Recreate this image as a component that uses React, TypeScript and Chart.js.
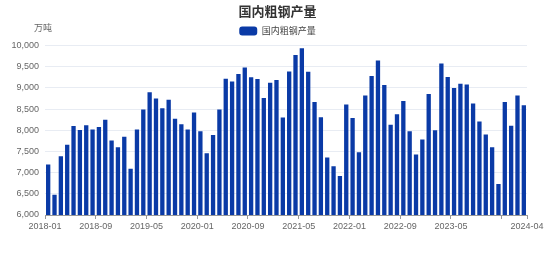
import React, { useEffect, useRef } from "react";
import { Chart, registerables } from "chart.js";

Chart.register(...registerables);

const title = "国内粗钢产量";
const unitLabel = "万吨";

const categories: string[] = [
  "2018-01", "2018-02", "2018-03", "2018-04", "2018-05", "2018-06", "2018-07", "2018-08", "2018-09", "2018-10", "2018-11", "2018-12",
  "2019-01", "2019-02", "2019-03", "2019-04", "2019-05", "2019-06", "2019-07", "2019-08", "2019-09", "2019-10", "2019-11", "2019-12",
  "2020-01", "2020-02", "2020-03", "2020-04", "2020-05", "2020-06", "2020-07", "2020-08", "2020-09", "2020-10", "2020-11", "2020-12",
  "2021-01", "2021-02", "2021-03", "2021-04", "2021-05", "2021-06", "2021-07", "2021-08", "2021-09", "2021-10", "2021-11", "2021-12",
  "2022-01", "2022-02", "2022-03", "2022-04", "2022-05", "2022-06", "2022-07", "2022-08", "2022-09", "2022-10", "2022-11", "2022-12",
  "2023-01", "2023-02", "2023-03", "2023-04", "2023-05", "2023-06", "2023-07", "2023-08", "2023-09", "2023-10", "2023-11", "2023-12",
  "2024-01", "2024-02", "2024-03", "2024-04",
];

const production: number[] = [
  7190, 6480, 7390, 7660, 8100, 8010, 8120, 8020, 8080, 8250, 7760, 7600,
  7850, 7090, 8020, 8490, 8900, 8750, 8520, 8720, 8270, 8140, 8020, 8420,
  7980, 7460, 7890, 8490, 9220, 9150, 9330, 9480, 9250, 9210, 8760, 9120,
  9190, 8300, 9390, 9780, 9940, 9380, 8670, 8310, 7360, 7150, 6920, 8610,
  8290, 7480, 8820, 9280, 9650, 9070, 8130, 8380, 8690, 7980, 7430, 7780,
  8860, 8000, 9580, 9260, 9000, 9100, 9080, 8630, 8210, 7900, 7600, 6730,
  8670, 8110, 8820, 8590,
];

// boundary positions (in months from the first category) that carry a tick mark
const tickBoundaries: number[] = [0, 8, 16, 24, 32, 40, 48, 56, 64, 72, 76];
const hiddenTickLabels: number[] = [72];

const yMin = 6000;
const yMax = 10000;
const yStep = 500;

const barColor = "#0a3aa6";
const FONT = '"Liberation Sans", "Noto Sans CJK SC", sans-serif';

const unitPlugin = {
  id: "unitLabel",
  afterDraw(chart: any) {
    const ctx = chart.ctx;
    ctx.save();
    ctx.font = `9px ${FONT}`;
    ctx.fillStyle = "#666";
    ctx.textAlign = "center";
    ctx.textBaseline = "middle";
    ctx.fillText(unitLabel, 43, 29);
    ctx.restore();
  },
};

export default function App() {
  const ref = useRef<HTMLCanvasElement | null>(null);

  useEffect(() => {
    if (!ref.current) return;
    Chart.defaults.font.family = FONT;
    const chart = new Chart(ref.current, {
      type: "bar",
      data: {
        labels: categories,
        datasets: [
          {
            label: title,
            data: production,
            backgroundColor: barColor,
            borderWidth: 0,
            barPercentage: 0.68,
            categoryPercentage: 1,
            xAxisID: "x",
            yAxisID: "y",
          },
        ],
      },
      options: {
        responsive: false,
        animation: false,
        layout: { padding: { left: 0, right: 0, top: 0, bottom: 0 } },
        plugins: {
          title: {
            display: true,
            text: title,
            color: "#333",
            font: { size: 13, weight: "bold", family: FONT },
            padding: { top: 5, bottom: 3 },
          },
          legend: {
            display: true,
            position: "top",
            labels: {
              boxWidth: 18,
              boxHeight: 9,
              padding: 3,
              color: "#444",
              font: { size: 9, family: FONT },
              useBorderRadius: true,
              borderRadius: 3,
            },
          },
          tooltip: { enabled: false },
        },
        scales: {
          x: {
            type: "category",
            display: false,
            offset: true,
          },
          x2: {
            type: "linear",
            position: "bottom",
            min: 0,
            max: categories.length,
            offset: false,
            afterBuildTicks: (s: any) => {
              s.ticks = tickBoundaries.map((v) => ({ value: v }));
            },
            afterFit: (s: any) => {
              s.height = 55;
            },
            ticks: {
              autoSkip: false,
              maxRotation: 0,
              minRotation: 0,
              padding: 2,
              color: "#666",
              font: { size: 9, family: FONT },
              callback: (v: any) => {
                const n = Number(v);
                if (hiddenTickLabels.includes(n)) return "";
                if (n >= categories.length) return categories[categories.length - 1];
                return categories[n];
              },
            },
            grid: {
              offset: false,
              drawOnChartArea: false,
              drawTicks: true,
              tickLength: 4,
              tickColor: "#999",
            },
            border: { display: true, color: "#999", width: 1 },
          },
          y: {
            type: "linear",
            position: "left",
            min: yMin,
            max: yMax,
            afterFit: (s: any) => {
              s.width = 45;
            },
            ticks: {
              stepSize: yStep,
              padding: 6,
              color: "#666",
              font: { size: 9, family: FONT },
              callback: (v: any) => Number(v).toLocaleString("en-US"),
            },
            grid: { color: "#e8ecf3", drawTicks: false, lineWidth: 1 },
            border: { display: false },
          },
          yR: {
            type: "linear",
            position: "right",
            display: true,
            grid: { display: false, drawTicks: false },
            ticks: { display: false },
            border: { display: false },
            afterFit: (s: any) => {
              s.width = 28;
            },
          },
        },
      },
      plugins: [unitPlugin],
    } as any);
    return () => chart.destroy();
  }, []);

  return (
    <div style={{ position: "absolute", left: 0, top: 0, width: 555, height: 270, background: "#fff" }}>
      <canvas ref={ref} width={555} height={270} />
    </div>
  );
}
